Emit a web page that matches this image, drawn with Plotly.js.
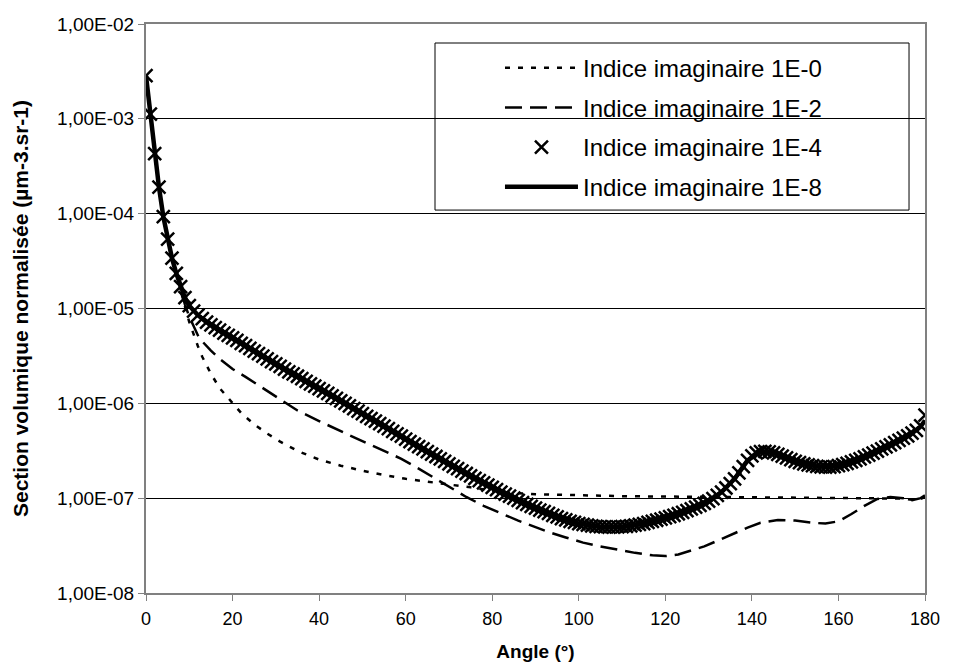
<!DOCTYPE html>
<html>
<head>
<meta charset="utf-8">
<script src="https://cdn.plot.ly/plotly-3.0.1.min.js"></script>
<style>html,body{margin:0;padding:0;background:#fff;}#chart{width:965px;height:671px;}</style>
</head>
<body>
<div id="chart"></div>
<script>
// ---- Data ----
const seriesNames = ["Indice imaginaire 1E-0", "Indice imaginaire 1E-2", "Indice imaginaire 1E-4", "Indice imaginaire 1E-8"];

// 1E-4 : markers every degree
const angles1e4 = [0,1,2,3,4,5,6,7,8,9,10,11,12,13,14,15,16,17,18,19,20,21,22,23,24,25,26,27,28,29,30,31,32,33,34,35,36,37,38,39,40,41,42,43,44,45,46,47,48,49,50,51,52,53,54,55,56,57,58,59,60,61,62,63,64,65,66,67,68,69,70,71,72,73,74,75,76,77,78,79,80,81,82,83,84,85,86,87,88,89,90,91,92,93,94,95,96,97,98,99,100,101,102,103,104,105,106,107,108,109,110,111,112,113,114,115,116,117,118,119,120,121,122,123,124,125,126,127,128,129,130,131,132,133,134,135,136,137,138,139,140,141,142,143,144,145,146,147,148,149,150,151,152,153,154,155,156,157,158,159,160,161,162,163,164,165,166,167,168,169,170,171,172,173,174,175,176,177,178,179,180];
const values1e4 = [2.85e-3,1.12e-3,4.3e-4,1.9e-4,9.3e-5,5.4e-5,3.4e-5,2.35e-5,1.7e-5,1.3e-5,
  1.07e-5,9.4e-6,8.5e-6,7.8e-6,7.2e-6,6.7e-6,6.3e-6,5.9e-6,5.5e-6,5.2e-6,
  4.9e-6,4.6e-6,4.3e-6,4.05e-6,3.8e-6,3.55e-6,3.35e-6,3.15e-6,2.95e-6,2.75e-6,
  2.6e-6,2.45e-6,2.3e-6,2.15e-6,2.05e-6,1.93e-6,1.82e-6,1.7e-6,1.6e-6,1.52e-6,
  1.43e-6,1.35e-6,1.27e-6,1.2e-6,1.13e-6,1.06e-6,1.0e-6,9.4e-7,8.8e-7,8.3e-7,
  7.8e-7,7.3e-7,6.9e-7,6.5e-7,6.1e-7,5.75e-7,5.4e-7,5.05e-7,4.75e-7,4.5e-7,
  4.2e-7,3.95e-7,3.72e-7,3.5e-7,3.3e-7,3.1e-7,2.92e-7,2.75e-7,2.6e-7,2.45e-7,
  2.3e-7,2.17e-7,2.05e-7,1.93e-7,1.82e-7,1.72e-7,1.62e-7,1.53e-7,1.45e-7,1.37e-7,
  1.3e-7,1.23e-7,1.16e-7,1.1e-7,1.05e-7,1.0e-7,9.5e-8,9.0e-8,8.6e-8,8.2e-8,
  7.85e-8,7.5e-8,7.2e-8,6.9e-8,6.6e-8,6.35e-8,6.1e-8,5.9e-8,5.7e-8,5.55e-8,
  5.4e-8,5.3e-8,5.2e-8,5.1e-8,5.05e-8,5.0e-8,4.97e-8,4.95e-8,4.95e-8,4.97e-8,
  5.0e-8,5.05e-8,5.1e-8,5.2e-8,5.3e-8,5.4e-8,5.55e-8,5.7e-8,5.85e-8,6.0e-8,
  6.2e-8,6.4e-8,6.6e-8,6.85e-8,7.1e-8,7.4e-8,7.7e-8,8.05e-8,8.4e-8,8.8e-8,
  9.3e-8,9.9e-8,1.07e-7,1.16e-7,1.28e-7,1.42e-7,1.6e-7,1.85e-7,2.15e-7,2.5e-7,
  2.8e-7,3.0e-7,3.1e-7,3.12e-7,3.08e-7,3.0e-7,2.9e-7,2.78e-7,2.66e-7,2.55e-7,
  2.45e-7,2.37e-7,2.3e-7,2.24e-7,2.2e-7,2.16e-7,2.14e-7,2.13e-7,2.13e-7,2.15e-7,
  2.2e-7,2.26e-7,2.33e-7,2.41e-7,2.5e-7,2.6e-7,2.72e-7,2.85e-7,2.99e-7,3.14e-7,
  3.3e-7,3.47e-7,3.65e-7,3.85e-7,4.07e-7,4.3e-7,4.55e-7,4.85e-7,5.2e-7,5.8e-7,
  7.5e-7];

// 1E-8 : solid line
const angles1e8 = [0,1,2,3,4,5,6,7,8,9,10,12,14,16,18,20,25,30,35,40,45,50,55,60,65,70,75,80,85,90,95,100,105,110,115,120,125,130,133,136,139,142,145,150,155,160,165,170,175,178,179,180];
const values1e8 = [2.85e-3,1.12e-3,4.3e-4,1.9e-4,9.3e-5,5.4e-5,3.4e-5,2.35e-5,1.7e-5,1.3e-5,1.07e-5,8.5e-6,7.2e-6,6.3e-6,5.5e-6,4.9e-6,3.55e-6,2.6e-6,1.93e-6,1.43e-6,1.06e-6,7.8e-7,5.75e-7,4.2e-7,3.1e-7,2.3e-7,1.72e-7,1.3e-7,1.0e-7,7.85e-8,6.35e-8,5.4e-8,5.0e-8,5.0e-8,5.4e-8,6.2e-8,7.4e-8,9.3e-8,1.16e-7,1.6e-7,2.5e-7,3.1e-7,3.0e-7,2.45e-7,2.16e-7,2.2e-7,2.6e-7,3.3e-7,4.3e-7,5.2e-7,5.7e-7,6.6e-7];

// 1E-0 : dotted line
const angles1e0 = [0,1,2,3,4,5,6,7,8,9,10,11,12,13,14,15,17,20,22,25,28,31,35,40,45,50,55,60,65,70,75,80,85,90,100,110,120,130,140,150,160,170,175,177,179,180];
const values1e0 = [2.85e-3,1.12e-3,4.3e-4,1.9e-4,9.3e-5,5.4e-5,3.4e-5,2.3e-5,1.6e-5,1.05e-5,7.2e-6,5.3e-6,4.0e-6,3.1e-6,2.5e-6,2.05e-6,1.45e-6,1.0e-6,7.9e-7,6.0e-7,4.8e-7,3.95e-7,3.15e-7,2.55e-7,2.2e-7,1.95e-7,1.75e-7,1.6e-7,1.5e-7,1.4e-7,1.3e-7,1.2e-7,1.13e-7,1.1e-7,1.07e-7,1.05e-7,1.04e-7,1.03e-7,1.02e-7,1.01e-7,1.0e-7,1.0e-7,9.9e-8,9.6e-8,9.8e-8,1.03e-7];

// 1E-2 : dashed line
const angles1e2 = [0,1,2,3,4,5,6,7,8,9,10,11,12,13,14,15,17,20,23,26,29,32,35,40,43,47,51,55,59,63,66,70,74,78,82,86,90,93,97,101,105,109,113,117,120,123,126,129,132,135,139,142,146,150,154,157,160,163,166,169,172,175,177,179,180];
const values1e2 = [2.85e-3,1.12e-3,4.3e-4,1.9e-4,9.3e-5,5.4e-5,3.4e-5,2.3e-5,1.6e-5,1.1e-5,8.2e-6,6.5e-6,5.2e-6,4.5e-6,4.0e-6,3.6e-6,2.95e-6,2.3e-6,1.9e-6,1.55e-6,1.25e-6,1.02e-6,8.4e-7,6.5e-7,5.6e-7,4.6e-7,3.8e-7,3.15e-7,2.6e-7,2.05e-7,1.7e-7,1.32e-7,1.03e-7,8.3e-8,6.9e-8,5.8e-8,4.95e-8,4.4e-8,3.85e-8,3.4e-8,3.1e-8,2.85e-8,2.65e-8,2.5e-8,2.45e-8,2.55e-8,2.8e-8,3.1e-8,3.55e-8,4.1e-8,4.9e-8,5.5e-8,5.9e-8,5.8e-8,5.5e-8,5.4e-8,5.7e-8,6.8e-8,8.3e-8,9.8e-8,1.03e-7,1.0e-7,9.5e-8,1.0e-7,1.07e-7];

const xTicks = [0,20,40,60,80,100,120,140,160,180];
const yTickVals = [1e-8,1e-7,1e-6,1e-5,1e-4,1e-3,1e-2];
const yTickText = ["1,00E-08","1,00E-07","1,00E-06","1,00E-05","1,00E-04","1,00E-03","1,00E-02"];
const xTitle = "Angle (°)";
const yTitle = "Section volumique normalisée (µm-3.sr-1)";

const FONT = "Arial, 'Liberation Sans', sans-serif";

const traces = [
  {x: angles1e0, y: values1e0, name: seriesNames[0], mode: "lines", legendgroup: "a",
   line: {color: "#000", width: 2.5, dash: "5px,8px"}},
  {x: angles1e2, y: values1e2, name: seriesNames[1], mode: "lines", legendgroup: "b",
   line: {color: "#000", width: 2.5, dash: "17px,8px"}},
  {x: angles1e4, y: values1e4, name: seriesNames[2], mode: "markers", legendgroup: "c",
   marker: {symbol: "x-thin-open", size: 13, color: "#000", line: {color: "#000", width: 2.5}}},
  {x: angles1e8, y: values1e8, name: seriesNames[3], mode: "lines", legendgroup: "d",
   line: {color: "#000", width: 4.5}}
];

const layout = {
  width: 965, height: 671,
  margin: {l: 146, r: 40, t: 24, b: 78},
  paper_bgcolor: "#fff", plot_bgcolor: "#fff",
  font: {family: FONT, color: "#000", size: 18},
  showlegend: true,
  legend: {
    x: 0.4544, y: 0.962, xanchor: "left", yanchor: "top",
    bgcolor: "rgba(0,0,0,0)", borderwidth: 0,
    font: {family: FONT, size: 24, color: "#000"},
    itemwidth: 73, tracegroupgap: 5.5, traceorder: "grouped"
  },
  xaxis: {
    range: [0, 180], tickvals: xTicks, ticktext: xTicks.map(String),
    showgrid: false, zeroline: false,
    showline: true, linecolor: "#808080", linewidth: 2, mirror: true,
    ticks: "outside", ticklen: 6, tickcolor: "#808080", tickwidth: 1,
    ticklabelstandoff: 2,
    tickfont: {family: FONT, size: 18, color: "#000"},
    title: {text: xTitle, font: {family: FONT, size: 19, color: "#000", weight: "bold"}, standoff: 17}
  },
  yaxis: {
    type: "log", range: [-8, -2], tickvals: yTickVals, ticktext: yTickText,
    showgrid: true, gridcolor: "#000", gridwidth: 1, zeroline: false,
    showline: true, linecolor: "#808080", linewidth: 2, mirror: true,
    ticks: "outside", ticklen: 6, tickcolor: "#808080", tickwidth: 1,
    tickfont: {family: FONT, size: 19, color: "#000"},
    title: {text: yTitle, font: {family: FONT, size: 21, color: "#000", weight: "bold"}, standoff: 23}
  },
  shapes: [
    {type: "rect", xref: "paper", yref: "paper", x0: 0.371, x1: 0.9795, y0: 0.673, y1: 0.9666,
     line: {color: "#000", width: 1}, fillcolor: "#fff", layer: "between"}
  ]
};

Plotly.newPlot("chart", traces, layout, {displayModeBar: false, staticPlot: true});
</script>
</body>
</html>
